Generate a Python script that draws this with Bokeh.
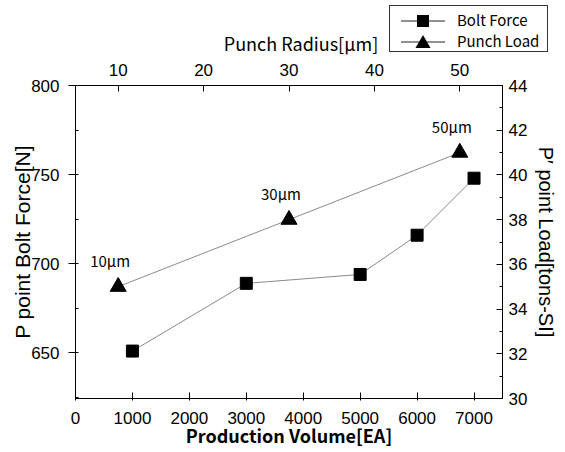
from bokeh.plotting import figure
from bokeh.layouts import column
from bokeh.models import (Range1d, LinearAxis, SingleIntervalTicker, ColumnDataSource, Div)
from bokeh.core.properties import value
from bokeh.embed import file_html
from bokeh.resources import INLINE

# ---- data ----
volume = [1000, 3000, 5000, 6000, 7000]
bolt_force = [651, 689, 694, 716, 748]
radius = [10, 30, 50]
punch_load = [35.0, 38.0, 41.0]
radius_labels = ["10\u03bcm", "30\u03bcm", "50\u03bcm"]
series_names = ["Bolt Force", "Punch Load"]
top_title = "Punch Radius[\u03bcm]"

TICK_FONT = "Liberation Sans"
KR_FONT = "Noto Sans CJK KR"
LINE_COLOR = "#8a8a8a"
W = 560
HEAD_H = 54
MAIN_H = 396

# ---------------- main chart ----------------
p = figure(width=W, height=MAIN_H, output_backend="svg", toolbar_location=None,
           x_range=Range1d(0, 7500), y_range=Range1d(624.4, 800),
           min_border_left=75, min_border_right=57, min_border_top=31, min_border_bottom=49)
p.extra_x_ranges = {"top": Range1d(5, 55)}
p.extra_y_ranges = {"right": Range1d(30, 44)}
p.xgrid.visible = False
p.ygrid.visible = False
p.outline_line_color = None
p.background_fill_color = "white"
p.border_fill_color = "white"

def style(ax, size="17px"):
    ax.axis_line_color = "black"
    ax.major_tick_line_color = "black"
    ax.minor_tick_line_color = "black"
    ax.major_label_text_font = TICK_FONT
    ax.major_label_text_font_size = size
    ax.major_label_text_color = "black"
    ax.axis_label_text_color = "black"
    ax.axis_label_text_font_style = "normal"

bx = p.xaxis[0]
bx.ticker = SingleIntervalTicker(interval=1000, num_minor_ticks=0)
style(bx)
bx.major_tick_in = 6
bx.major_tick_out = 2
bx.minor_tick_line_color = None
bx.major_label_standoff = 11
bx.axis_label = "Production Volume[EA]"
bx.axis_label_text_font = KR_FONT
bx.axis_label_text_font_style = "bold"
bx.axis_label_text_font_size = "18px"
bx.axis_label_standoff = -5

ly = p.yaxis[0]
ly.ticker = SingleIntervalTicker(interval=50, num_minor_ticks=2)
style(ly)
ly.major_tick_in = 0
ly.major_tick_out = 7
ly.minor_tick_in = 3
ly.minor_tick_out = 0
ly.major_label_standoff = 9
ly.axis_label = "P point Bolt Force[N]"
ly.axis_label_text_font = TICK_FONT
ly.axis_label_text_font_size = "21px"
ly.axis_label_standoff = -6

tx = LinearAxis(x_range_name="top", ticker=SingleIntervalTicker(interval=10, num_minor_ticks=0))
style(tx)
tx.major_tick_in = 6
tx.major_tick_out = 0
tx.minor_tick_line_color = None
tx.major_label_standoff = 10
p.add_layout(tx, "above")

ry = LinearAxis(y_range_name="right", ticker=SingleIntervalTicker(interval=2, num_minor_ticks=2))
style(ry)
ry.major_tick_in = 6
ry.major_tick_out = 0
ry.minor_tick_in = 3
ry.minor_tick_out = 0
ry.major_label_standoff = 6
ry.axis_label = "P\u2032 point Load[tons-SI]"
ry.axis_label_text_font = TICK_FONT
ry.axis_label_text_font_size = "20px"
ry.axis_label_standoff = 5
p.add_layout(ry, "right")

bf_src = ColumnDataSource(dict(x=volume, y=bolt_force))
p.line("x", "y", source=bf_src, line_color=LINE_COLOR, line_width=1)
p.scatter("x", "y", source=bf_src, marker="square", size=12,
          fill_color="black", line_color="black")

pl_src = ColumnDataSource(dict(x=radius, y=punch_load, t=radius_labels))
p.line("x", "y", source=pl_src, line_color=LINE_COLOR, line_width=1,
       x_range_name="top", y_range_name="right")
p.scatter("x", "y", source=pl_src, marker="triangle", size=16,
          fill_color="black", line_color="black",
          x_range_name="top", y_range_name="right")
p.text("x", "y", text="t", source=pl_src, x_range_name="top", y_range_name="right",
       x_offset=-8, y_offset=-26, text_align="center", text_baseline="middle",
       text_font=value(KR_FONT), text_font_size="15px", text_color="black")

# ---------------- header strip: top-axis title + legend box ----------------
TXT_STYLE = f"font-family:'{KR_FONT}';font-size:15px;fill:black;"
legend_svg = f"""
<svg xmlns="http://www.w3.org/2000/svg" width="160" height="48" style="position:absolute;left:389px;top:5px;overflow:visible">
  <rect x="0.5" y="0.5" width="158" height="46" fill="white" stroke="#333" stroke-width="1"/>
  <line x1="12" y1="16" x2="56" y2="16" stroke="#222" stroke-width="1"/>
  <rect x="28" y="10" width="12" height="12" fill="black"/>
  <text x="68" y="21" style="{TXT_STYLE}">{series_names[0]}</text>
  <line x1="12" y1="37" x2="56" y2="37" stroke="#222" stroke-width="1"/>
  <polygon points="34,30 41.5,43 26.5,43" fill="black"/>
  <text x="68" y="42" style="{TXT_STYLE}">{series_names[1]}</text>
</svg>
"""
head_html = f"""
<div style="position:relative;width:{W}px;height:{HEAD_H}px;margin:0;padding:0;">
  <div style="position:absolute;left:201px;top:32px;width:200px;height:22px;line-height:22px;text-align:center;
              font-family:'{KR_FONT}';font-size:18px;color:black;white-space:nowrap;">{top_title}</div>
  {legend_svg}
</div>
"""
head = Div(text=head_html, width=W, height=HEAD_H, margin=0)

layout = column(head, p, spacing=0)
open("out.html", "w").write(file_html(layout, INLINE))
